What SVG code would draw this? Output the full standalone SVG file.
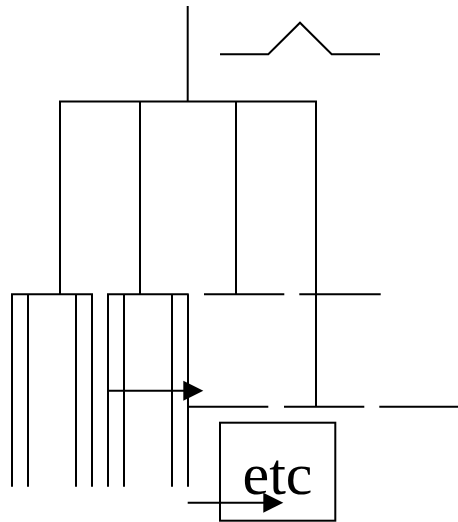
<svg xmlns="http://www.w3.org/2000/svg" width="458" height="522" viewBox="0 0 458 522">
  <style>
    .ln { stroke: #000; stroke-width: 2; fill: none; stroke-linecap: butt; }
    .head { fill: #000; stroke: none; }
    .lbl { font-family: "Liberation Serif", "Times New Roman", serif; font-size: 60px; fill: #000; }
  </style>
  <defs>
    <path id="arrowhead" class="head" d="M0,-10 L20,0 L0,10 Z"/>
  </defs>

  <!-- signal symbol -->
  <g id="pulse">
    <polyline class="ln" points="220,54.3 268.3,54.3 300,22.7 331.7,54.3 380,54.3"/>
  </g>

  <g id="connectors">
    <!-- root stem and first-level bus -->
    <line class="ln" x1="187.7" y1="6" x2="187.7" y2="101.5"/>
    <line class="ln" x1="59" y1="101.5" x2="317" y2="101.5"/>
    <line class="ln" x1="60" y1="101.5" x2="60" y2="294.3"/>
    <line class="ln" x1="140" y1="101.5" x2="140" y2="294.3"/>
    <line class="ln" x1="236" y1="101.5" x2="236" y2="294.3"/>
    <line class="ln" x1="316" y1="101.5" x2="316" y2="406.7"/>

    <!-- second-level bus (segmented) -->
    <line class="ln" x1="11" y1="294.3" x2="93" y2="294.3"/>
    <line class="ln" x1="107" y1="294.3" x2="188.7" y2="294.3"/>
    <line class="ln" x1="204" y1="294.3" x2="284.3" y2="294.3"/>
    <line class="ln" x1="299.3" y1="294.3" x2="380.7" y2="294.3"/>

    <!-- first group of leaves -->
    <line class="ln" x1="12" y1="294.3" x2="12" y2="486.7"/>
    <line class="ln" x1="28" y1="294.3" x2="28" y2="486.7"/>
    <line class="ln" x1="76" y1="294.3" x2="76" y2="486.7"/>
    <line class="ln" x1="92" y1="294.3" x2="92" y2="486.7"/>

    <!-- second group of leaves -->
    <line class="ln" x1="108" y1="294.3" x2="108" y2="486.7"/>
    <line class="ln" x1="124" y1="294.3" x2="124" y2="486.7"/>
    <line class="ln" x1="172" y1="294.3" x2="172" y2="486.7"/>
    <line class="ln" x1="188" y1="294.3" x2="188" y2="486.7"/>

    <!-- third-level bus (segmented) -->
    <line class="ln" x1="187" y1="406.7" x2="268.3" y2="406.7"/>
    <line class="ln" x1="284" y1="406.7" x2="364.3" y2="406.7"/>
    <line class="ln" x1="379.3" y1="406.7" x2="458" y2="406.7"/>

    <!-- arrows -->
    <line class="ln" x1="108" y1="390.7" x2="185" y2="390.7"/>
    <use href="#arrowhead" x="183.3" y="390.7"/>
    <line class="ln" x1="187.7" y1="502.7" x2="265" y2="502.7"/>
  </g>

  <g id="etc">
    <rect class="ln" x="220" y="422.7" width="115.3" height="98"/>
    <text class="lbl" x="277.5" y="494" text-anchor="middle">etc</text>
  </g>

  <use href="#arrowhead" x="263.3" y="502.7"/>
</svg>
